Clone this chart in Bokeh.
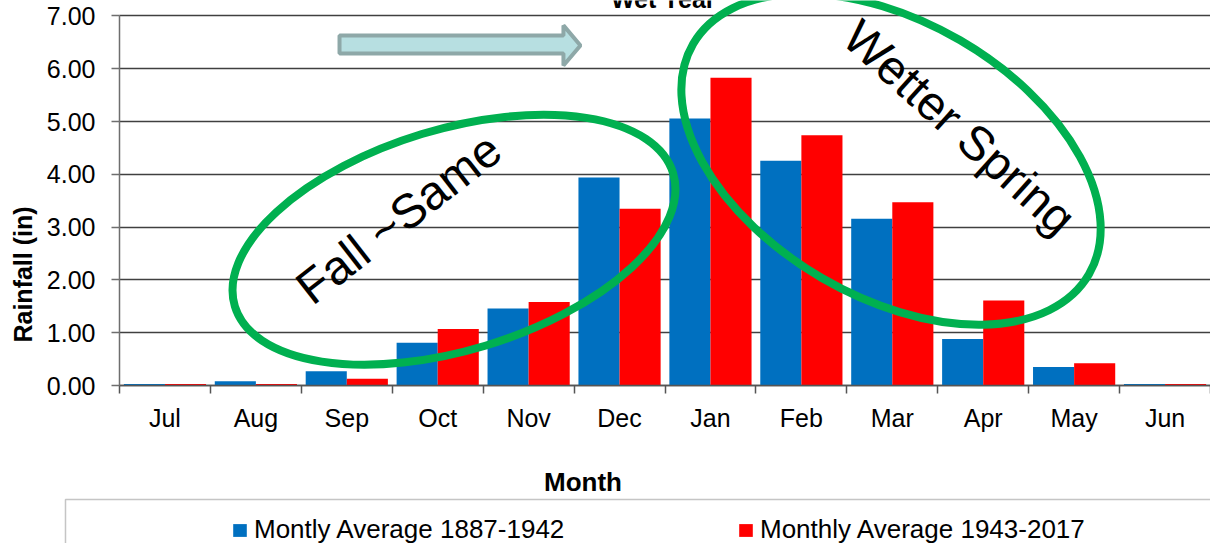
import math
from bokeh.plotting import figure
from bokeh.models import (ColumnDataSource, FixedTicker, Range1d, Label, Legend,
                          LegendItem, BoxAnnotation)
from bokeh.transform import dodge
from bokeh.embed import file_html
from bokeh.resources import INLINE

# ---------------- data ----------------
months = ["Jul", "Aug", "Sep", "Oct", "Nov", "Dec",
          "Jan", "Feb", "Mar", "Apr", "May", "Jun"]
avg_1887_1942 = [0.03, 0.08, 0.27, 0.81, 1.46, 3.94, 5.06, 4.26, 3.16, 0.88, 0.35, 0.03]
avg_1943_2017 = [0.03, 0.03, 0.13, 1.07, 1.58, 3.35, 5.83, 4.74, 3.47, 1.61, 0.42, 0.03]
y_ticks = [0, 1, 2, 3, 4, 5, 6, 7]
y_tick_labels = ["0.00", "1.00", "2.00", "3.00", "4.00", "5.00", "6.00", "7.00"]
series_names = ["Montly Average 1887-1942", "Monthly Average 1943-2017"]
series_colors = ["#0070C0", "#FF0000"]
chart_title = "Wet Year"
x_title = "Month"
y_title = "Rainfall (in)"
note_fall = "Fall ~Same"
note_spring = "Wetter Spring"

FONT = "Liberation Sans"
GREEN = "#00B050"

centers = [i + 0.5 for i in range(len(months))]
boundaries = list(range(len(months) + 1))
src = ColumnDataSource(dict(x=centers, a=avg_1887_1942, b=avg_1943_2017))

# the frame covers the whole page; the axes are pinned at 0
p = figure(width=1210, height=543,
           x_range=Range1d(-1.3089, 12), y_range=Range1d(-2.9932, 7.2936),
           output_backend="svg", toolbar_location=None,
           min_border_left=0, min_border_right=0,
           min_border_top=0, min_border_bottom=0)
p.outline_line_color = None
p.background_fill_color = "white"
p.border_fill_color = "white"

# grid
p.xgrid.visible = False
p.ygrid.ticker = FixedTicker(ticks=y_ticks)
p.ygrid.grid_line_color = "#404040"
p.ygrid.grid_line_width = 1.5
try:
    p.ygrid.cross_bounds = (0, 12)
except Exception:
    p.ygrid.visible = False
    p.segment(x0=0, x1=12, y0=y_ticks, y1=y_ticks, line_color="#404040",
              line_width=1.5, level="underlay")

# y axis
ya = p.yaxis[0]
ya.fixed_location = 0
ya.ticker = FixedTicker(ticks=y_ticks)
ya.major_label_overrides = {t: l for t, l in zip(y_ticks, y_tick_labels)}
ya.bounds = (0, 7)
ya.minor_tick_line_color = None
ya.major_tick_out = 8
ya.major_tick_in = 0
ya.major_label_standoff = 16
ya.axis_line_color = "#6e6e6e"
ya.axis_line_width = 1.5
ya.major_tick_line_color = "#6e6e6e"
ya.major_tick_line_width = 1.5
ya.major_label_text_font = FONT
ya.major_label_text_font_size = "25px"
ya.major_label_text_color = "black"

# x axis: labels at centres, tick marks at category boundaries
xa = p.xaxis[0]
xa.fixed_location = 0
xa.bounds = (0, 12)
xa.ticker = FixedTicker(ticks=centers, minor_ticks=boundaries)
xa.major_label_overrides = {c: m for c, m in zip(centers, months)}
xa.major_tick_out = 0
xa.major_tick_in = 0
xa.minor_tick_out = 8
xa.minor_tick_in = 0
xa.minor_tick_line_color = "#555555"
xa.minor_tick_line_width = 1.5
xa.axis_line_color = "#555555"
xa.axis_line_width = 1.5
xa.major_label_standoff = 10
xa.major_label_text_font = FONT
xa.major_label_text_font_size = "25px"
xa.major_label_text_color = "black"

# axis titles (placed where the reference has them)
p.add_layout(Label(x=5.098, y=-1.819, text=x_title,
                   text_align="center", text_baseline="alphabetic",
                   text_font=FONT, text_font_style="bold", text_font_size="26px",
                   text_color="black"))
p.add_layout(Label(x=-1.056, y=2.103, text=y_title, angle=math.pi / 2,
                   text_align="center", text_baseline="middle",
                   text_font=FONT, text_font_style="bold", text_font_size="25px",
                   text_color="black"))

# bars
bw = 0.452
r_a = p.vbar(x=dodge("x", -bw / 2, range=p.x_range), top="a", width=bw, bottom=0,
             source=src, fill_color=series_colors[0], line_color=None)
r_b = p.vbar(x=dodge("x", bw / 2, range=p.x_range), top="b", width=bw, bottom=0,
             source=src, fill_color=series_colors[1], line_color=None)

# annotation ellipses
p.ellipse(x=[3.679], y=[2.761], width=458, height=221, angle=0.295,
          width_units="screen", height_units="screen",
          fill_color=None, line_color=GREEN, line_width=8)
p.ellipse(x=[8.486], y=[4.288], width=458, height=275, angle=-0.527,
          width_units="screen", height_units="screen",
          fill_color=None, line_color=GREEN, line_width=8)

# block arrow
p.patch(x=[2.420, 4.883, 4.883, 5.070, 4.883, 4.883, 2.420],
        y=[6.632, 6.632, 6.822, 6.442, 6.063, 6.290, 6.290],
        fill_color="#B7DFE1", line_color="#8EA8A8", line_width=4)

# annotation texts
p.add_layout(Label(x=3.07, y=3.164, text=note_fall, angle=0.663,
                   text_align="center", text_baseline="middle",
                   text_font=FONT, text_font_size="48px", text_color="black"))
p.add_layout(Label(x=9.239, y=4.888, text=note_spring, angle=-0.733,
                   text_align="center", text_baseline="middle",
                   text_font=FONT, text_font_size="48px", text_color="black"))
p.add_layout(Label(x=5.983, y=7.33, text=chart_title,
                   text_align="center", text_baseline="alphabetic",
                   text_font=FONT, text_font_style="bold", text_font_size="25px",
                   text_color="black"))

# legend frame
p.add_layout(BoxAnnotation(left=-0.594, right=13, top=-2.160, bottom=-4,
                           fill_alpha=0, fill_color=None,
                           line_color="#404040", line_width=1.5))

legend = Legend(items=[LegendItem(label=series_names[0], renderers=[r_a]),
                       LegendItem(label=series_names[1], renderers=[r_b])],
                orientation="horizontal", location=(231, -2),
                border_line_color=None, background_fill_alpha=0,
                padding=0, margin=0, spacing=0,
                glyph_width=17, glyph_height=16, label_standoff=6,
                label_width=483, label_height=30,
                label_text_font=FONT,
                label_text_font_size="26px", label_text_color="black")
p.add_layout(legend)

open("out.html", "w").write(file_html(p, INLINE))
